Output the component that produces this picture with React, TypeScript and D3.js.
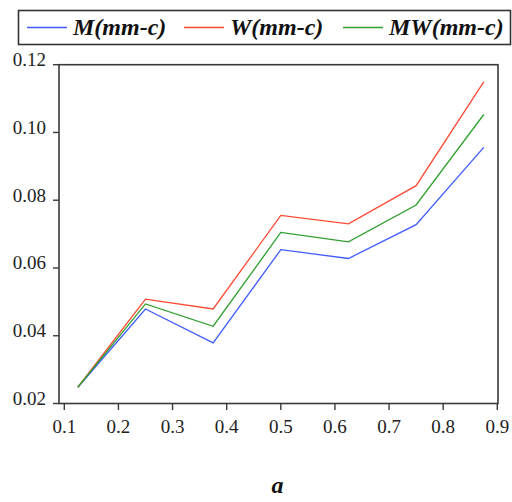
import * as d3 from "d3";
import { useMemo } from "react";

const xValues = [0.125, 0.25, 0.375, 0.5, 0.625, 0.75, 0.875];
const mValues = [0.0248, 0.0479, 0.0379, 0.0654, 0.0628, 0.0728, 0.0956];
const wValues = [0.0248, 0.0508, 0.0479, 0.0755, 0.073, 0.0843, 0.1149];
const mwValues = [0.0248, 0.0494, 0.0428, 0.0705, 0.0677, 0.0786, 0.1053];

const xTicks = [0.1, 0.2, 0.3, 0.4, 0.5, 0.6, 0.7, 0.8, 0.9];
const yTicks = [0.02, 0.04, 0.06, 0.08, 0.1, 0.12];

const seriesNames = ["M(mm-c)", "W(mm-c)", "MW(mm-c)"];
const seriesColors = ["#3f5cff", "#ff4a33", "#2fa02f"];

const width = 512;
const height = 502;
const frame = { left: 59, right: 498, top: 64.7, bottom: 403.5 };

export default function App() {
  const x = useMemo(() => d3.scaleLinear().domain([0.1, 0.9]).range([64.3, 497.3]), []);
  const y = useMemo(() => d3.scaleLinear().domain([0.02, 0.12]).range([403.5, 64.7]), []);

  const line = d3
    .line<number>()
    .x((_, i) => x(xValues[i]))
    .y((d) => y(d));

  const series = [mValues, wValues, mwValues];
  const legendX = [27, 184, 343];

  return (
    <svg
      width={width}
      height={height}
      style={{ position: "absolute", left: 0, top: 0, background: "#fff" }}
      fontFamily="'Liberation Serif', 'Times New Roman', serif"
    >
      {/* legend */}
      <rect x={18.5} y={10.5} width={492} height={34} fill="#fff" stroke="#333" strokeWidth={1.6} />
      {seriesNames.map((name, i) => (
        <g key={name}>
          <line x1={legendX[i]} x2={legendX[i] + 40} y1={27.5} y2={27.5} stroke={seriesColors[i]} strokeWidth={1.3} />
          <text x={legendX[i] + 46} y={35} fontSize={24} fontWeight="bold" fontStyle="italic" fill="#111">
            {name}
          </text>
        </g>
      ))}

      {/* series */}
      {series.map((vals, i) => (
        <path key={i} d={line(vals) ?? ""} fill="none" stroke={seriesColors[i]} strokeWidth={1.3} />
      ))}

      {/* frame */}
      <rect
        x={frame.left}
        y={frame.top}
        width={frame.right - frame.left}
        height={frame.bottom - frame.top}
        fill="none"
        stroke="#3a3a3a"
        strokeWidth={1.6}
      />

      {/* y axis */}
      {yTicks.map((t) => (
        <g key={t}>
          <line x1={53} x2={frame.left} y1={y(t)} y2={y(t)} stroke="#3a3a3a" strokeWidth={1.4} />
          <text x={46} y={y(t) + 1.5} fontSize={19} textAnchor="end" fill="#222">
            {d3.format(".2f")(t)}
          </text>
        </g>
      ))}

      {/* x axis */}
      {xTicks.map((t) => (
        <g key={t}>
          <line x1={x(t)} x2={x(t)} y1={frame.bottom} y2={410} stroke="#3a3a3a" strokeWidth={1.4} />
          <text x={x(t)} y={433} fontSize={19} textAnchor="middle" fill="#222">
            {d3.format(".1f")(t)}
          </text>
        </g>
      ))}

      <text x={277.5} y={493} fontSize={24} fontWeight="bold" fontStyle="italic" textAnchor="middle" fill="#111">
        a
      </text>
    </svg>
  );
}
